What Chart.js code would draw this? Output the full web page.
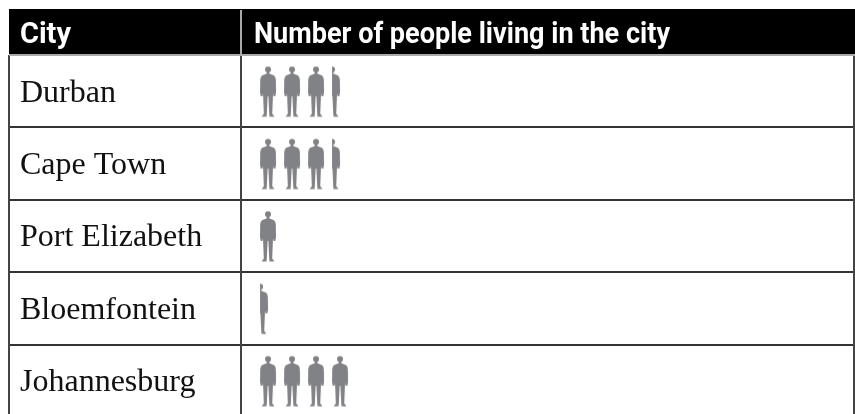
<!DOCTYPE html>
<html lang="en">
<head>
    <meta charset="UTF-8">
    <title>Number of people living in the city</title>
    <script src="https://cdn.jsdelivr.net/npm/chart.js"></script>
    <style>
        html, body { margin: 0; background: #fff; overflow: hidden; }
        canvas { display: block; }
    </style>
</head>
<body>
    <canvas id="chart" width="855" height="418" style="width:855px;height:418px"></canvas>

    <script>
        const cities = ['Durban', 'Cape Town', 'Port Elizabeth', 'Bloemfontein', 'Johannesburg'];
        const peopleIcons = [3.5, 3.5, 1, 0.5, 4];
        const headers = ['City', 'Number of people living in the city'];

        // one person, drawn once and used as the point style
        function makePerson(half) {
            const c = document.createElement('canvas');
            c.width = 18;
            c.height = 54;
            const g = c.getContext('2d');
            g.fillStyle = '#808285';
            g.translate(0, 2);
            if (half) {
                // right half of the figure, pushed to the left of the slot
                g.translate(-8, 0);
                g.beginPath();
                g.rect(9, -2, 9, 54);
                g.clip();
            }
            g.beginPath();
            g.arc(9, 3.2, 3, 0, Math.PI * 2);
            g.fill();
            g.beginPath();
            g.moveTo(7.8, 5.5);
            g.lineTo(10.2, 5.5);
            g.lineTo(10.5, 7.6);
            g.lineTo(14.5, 9);
            g.quadraticCurveTo(16.6, 10, 16.8, 14);
            g.lineTo(17, 26);
            g.lineTo(16.3, 30);
            g.lineTo(14.6, 30);
            g.lineTo(14, 27.5);
            g.lineTo(13.2, 47.5);
            g.lineTo(15.4, 50.5);
            g.lineTo(10.5, 50.5);
            g.lineTo(10.2, 47.5);
            g.lineTo(9.4, 30);
            g.lineTo(8.6, 30);
            g.lineTo(7.8, 47.5);
            g.lineTo(7.5, 50.5);
            g.lineTo(2.6, 50.5);
            g.lineTo(4.8, 47.5);
            g.lineTo(4, 27.5);
            g.lineTo(3.4, 30);
            g.lineTo(1.7, 30);
            g.lineTo(1, 26);
            g.lineTo(1.2, 14);
            g.quadraticCurveTo(1.4, 10, 3.5, 9);
            g.lineTo(7.5, 7.6);
            g.closePath();
            g.fill();
            return c;
        }

        const wholePerson = makePerson(false);
        const halfPerson = makePerson(true);

        const points = [];
        const styles = [];
        cities.forEach((city, row) => {
            const value = peopleIcons[row];
            for (let i = 0; i < value; i++) {
                points.push({ x: i + 0.5, y: city });
                styles.push(value - i >= 1 ? wholePerson : halfPerson);
            }
        });

        const tableFrame = {
            id: 'tableFrame',
            beforeDraw(chart) {
                // city names sit a little below the middle of their row
                chart.scales.y.getLabelItems().forEach(item => {
                    item.options.translation[1] += 2;
                });
            },
            afterDraw(chart) {
                const ctx = chart.ctx;
                const area = chart.chartArea;
                ctx.save();
                // outer rules
                ctx.strokeStyle = '#444';
                ctx.lineWidth = 2;
                ctx.beginPath();
                ctx.moveTo(9, area.top);
                ctx.lineTo(9, area.bottom);
                ctx.moveTo(854, area.top);
                ctx.lineTo(854, area.bottom);
                ctx.stroke();
                // header band
                ctx.fillStyle = '#000';
                ctx.fillRect(9, 9, 846, area.top - 9);
                ctx.fillStyle = '#aaa';
                ctx.fillRect(9, area.top - 1, 846, 2);
                ctx.fillRect(area.left - 1, 10, 2, area.top - 10);
                ctx.fillStyle = '#fff';
                ctx.font = 'bold 29px Roboto';
                ctx.textBaseline = 'alphabetic';
                ctx.fillText(headers[0], 20, 43, 51);
                ctx.fillText(headers[1], 254, 43, 416);
                ctx.restore();
            }
        };

        new Chart(document.getElementById('chart'), {
            type: 'scatter',
            data: {
                labels: cities,
                datasets: [{
                    data: points,
                    pointStyle: styles,
                    pointRadius: 9,
                    clip: false
                }]
            },
            options: {
                responsive: false,
                maintainAspectRatio: false,
                animation: false,
                devicePixelRatio: 1,
                layout: { autoPadding: false, padding: { left: 20, top: 55, right: 1, bottom: 1 } },
                plugins: { legend: { display: false }, tooltip: { enabled: false } },
                events: [],
                scales: {
                    x: { display: false, type: 'linear', min: -0.625, max: 24.915 },
                    y: {
                        type: 'category',
                        labels: cities,
                        offset: true,
                        afterFit(scale) {
                            scale.width = 221;
                            // the last row runs off the bottom of the picture, no room kept for its label
                            scale.paddingBottom = 0;
                            scale.paddingTop = 0;
                        },
                        border: { color: '#444', width: 2 },
                        grid: { color: '#333', lineWidth: 2, tickLength: 232, offset: true },
                        ticks: {
                            crossAlign: 'far',
                            color: '#111',
                            padding: 0,
                            font: { family: '"Liberation Serif"', size: 32 }
                        }
                    }
                }
            },
            plugins: [tableFrame]
        });
    </script>
</body>
</html>
